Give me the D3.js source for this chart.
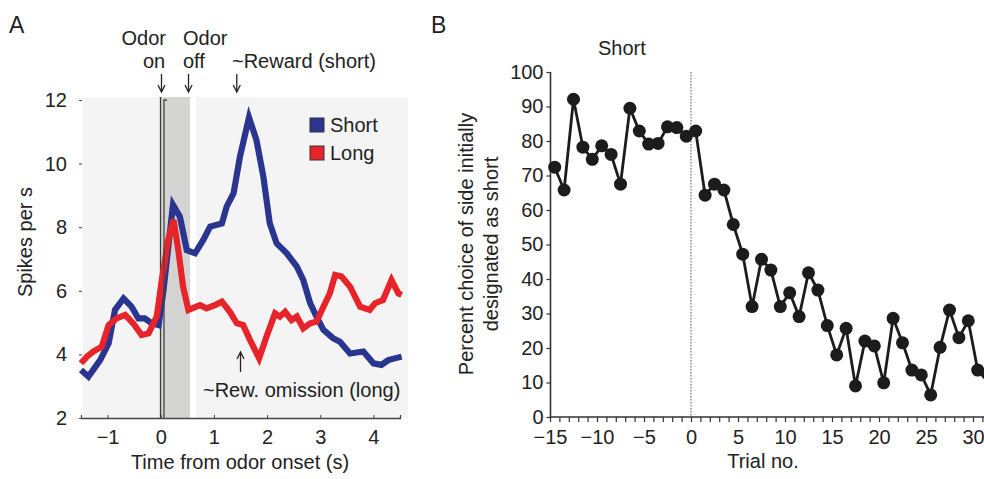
<!DOCTYPE html>
<html><head><meta charset="utf-8">
<script src="https://cdn.jsdelivr.net/npm/d3@7"></script>
<style>body{margin:0;background:#fff}svg{display:block;font-family:"Liberation Sans",Arial,Helvetica,sans-serif;fill:#222}</style>
</head><body><svg id="c" width="984" height="479"></svg>
<script>
// ---- Panel A data ----
const shortTime = [-1.5,-1.36,-1.14,-0.98,-0.86,-0.70,-0.55,-0.42,-0.30,-0.17,-0.04,0.05,0.23,0.36,0.49,0.645,0.80,0.93,1.15,1.24,1.37,1.49,1.66,1.80,1.93,2.05,2.18,2.37,2.56,2.68,2.81,2.93,3.06,3.24,3.37,3.56,3.81,4.0,4.15,4.28,4.53];
const shortRate = [3.51,3.30,3.82,4.35,5.40,5.76,5.50,5.13,5.13,4.98,4.92,6.0,8.70,8.33,7.28,7.18,7.60,8.02,8.12,8.65,9.07,10.22,11.45,10.74,9.59,8.12,7.49,7.18,6.76,6.34,5.61,5.19,4.77,4.51,4.40,4.03,4.09,3.72,3.67,3.82,3.93];
const longTime = [-1.5,-1.39,-1.27,-1.11,-0.98,-0.83,-0.67,-0.52,-0.36,-0.23,-0.075,0.02,0.14,0.24,0.33,0.42,0.52,0.74,0.86,1.02,1.15,1.30,1.43,1.55,1.68,1.85,1.99,2.15,2.24,2.34,2.46,2.56,2.68,2.81,2.93,3.06,3.18,3.28,3.40,3.56,3.75,3.93,4.03,4.18,4.34,4.47,4.53];
const longRate = [3.72,3.93,4.09,4.24,4.92,5.13,5.24,4.98,4.61,4.66,5.19,6.34,7.60,8.23,7.28,6.13,5.40,5.55,5.45,5.55,5.66,5.34,4.98,4.92,4.45,3.88,4.56,5.29,5.19,5.34,5.08,5.19,4.82,4.98,5.03,5.50,5.92,6.50,6.45,6.13,5.50,5.40,5.61,5.71,6.34,5.92,5.87];
const xTicksA = [-1,0,1,2,3,4];
const yTicksA = [2,4,6,8,10,12];
const seriesNames = ["Short","Long"];
const seriesColors = ["#2a3590","#e8242b"];

// ---- Panel B data ----
const trials = [-14.5,-13.5,-12.5,-11.5,-10.5,-9.5,-8.5,-7.5,-6.5,-5.5,-4.5,-3.5,-2.5,-1.5,-0.5,0.5,1.5,2.5,3.5,4.5,5.5,6.5,7.5,8.5,9.5,10.5,11.5,12.5,13.5,14.5,15.5,16.5,17.5,18.5,19.5,20.5,21.5,22.5,23.5,24.5,25.5,26.5,27.5,28.5,29.5,30.5,31.5];
const pctShort = [72.4,65.8,92.1,78.2,74.7,78.6,76.1,67.5,89.5,82.9,79.1,79.3,84.1,83.9,81.4,82.9,64.3,67.5,65.8,55.8,47.2,32.0,45.7,42.6,32.0,36.0,29.1,41.8,36.8,26.5,18.0,25.7,9.0,22.0,20.6,9.9,28.6,21.5,13.6,12.2,6.4,20.2,31.0,23.0,27.9,13.6,12.7];
const xTicksB = [-15,-10,-5,0,5,10,15,20,25,30];
const yTicksB = [0,10,20,30,40,50,60,70,80,90,100];

const svg = d3.select("#c");
const FS = 20;

// ================= Panel A =================
const xA = d3.scaleLinear().domain([-1.5,4.5]).range([81,400]);
const yA = d3.scaleLinear().domain([2,12]).range([418,100]);
const gA = svg.append("g");

gA.append("rect").attr("x",83).attr("y",97).attr("width",408-83).attr("height",418-97).attr("fill","#f4f4f4");
gA.append("rect").attr("x",xA(0.55)).attr("y",97).attr("width",xA(0.66)-xA(0.55)).attr("height",418-97).attr("fill","#ffffff");
gA.append("rect").attr("x",161).attr("y",97).attr("width",xA(0.55)-161).attr("height",418-97).attr("fill","#d4d4d2");
gA.append("line").attr("x1",160.5).attr("x2",160.5).attr("y1",97).attr("y2",418).attr("stroke","#3a3a3a").attr("stroke-width",1.3);

const lineA = d3.line().x(d=>xA(d[0])).y(d=>yA(d[1]));
const longPts = longTime.map((t,i)=>[t,longRate[i]]);
const shortPts = shortTime.map((t,i)=>[t,shortRate[i]]);
gA.append("path").attr("d",lineA(shortPts)).attr("fill","none").attr("stroke",seriesColors[0]).attr("stroke-width",6.2).attr("stroke-linejoin","miter");
gA.append("path").attr("d",lineA(longPts)).attr("fill","none").attr("stroke",seriesColors[1]).attr("stroke-width",6.2).attr("stroke-linejoin","miter");

// axes
const axXA = gA.append("g").attr("transform","translate(0,418)")
  .call(d3.axisBottom(xA).tickValues(xTicksA).tickSize(-3).tickPadding(12).tickFormat(d=>d<0?"\u2212"+Math.abs(d):d));
const axYA = gA.append("g").attr("transform","translate(82,0)")
  .call(d3.axisLeft(yA).tickValues(yTicksA).tickSize(3).tickPadding(12));
[axXA,axYA].forEach(a=>{a.select(".domain").attr("stroke","#444").attr("stroke-width",1.3);
  a.selectAll(".tick line").attr("stroke","#444");
  a.selectAll(".tick text").attr("font-size",FS).attr("fill","#222").style("font-family","inherit");});
axYA.select(".domain").attr("d","M85,100H82V418");

gA.append("text").attr("x",240).attr("y",469).attr("text-anchor","middle").attr("font-size",FS).text("Time from odor onset (s)");
gA.append("text").attr("transform","translate(32,242) rotate(-90)").attr("text-anchor","middle").attr("font-size",FS).text("Spikes per s");

// legend
seriesNames.forEach((n,i)=>{
  gA.append("rect").attr("x",310).attr("y",118+i*28).attr("width",14).attr("height",14).attr("fill",seriesColors[i]).attr("stroke","#333").attr("stroke-width",1);
  gA.append("text").attr("x",330).attr("y",132+i*28).attr("font-size",FS).text(n);
});

// annotations
function arrowDown(x,y1,y2){
  gA.append("line").attr("x1",x).attr("x2",x).attr("y1",y1).attr("y2",y2-1).attr("stroke","#222").attr("stroke-width",1.3);
  gA.append("path").attr("d",`M${x-3.5},${y2-7}L${x},${y2}L${x+3.5},${y2-7}`).attr("fill","none").attr("stroke","#222").attr("stroke-width",1.3);
}
function arrowUp(x,y1,y2){
  gA.append("line").attr("x1",x).attr("x2",x).attr("y1",y1).attr("y2",y2+1).attr("stroke","#222").attr("stroke-width",1.3);
  gA.append("path").attr("d",`M${x-3.5},${y2+7}L${x},${y2}L${x+3.5},${y2+7}`).attr("fill","none").attr("stroke","#222").attr("stroke-width",1.3);
}
gA.append("text").attr("x",121.5).attr("y",45).attr("font-size",FS).text("Odor");
gA.append("text").attr("x",143).attr("y",68).attr("font-size",FS).text("on");
gA.append("text").attr("x",183).attr("y",45).attr("font-size",FS).text("Odor");
gA.append("text").attr("x",183).attr("y",68).attr("font-size",FS).text("off");
gA.append("text").attr("x",232).attr("y",68).attr("font-size",FS).text("~Reward (short)");
arrowDown(161.5,74,92);
arrowDown(188.5,74,92);
arrowDown(xA(1.43),74,92);
arrowUp(xA(1.5),372,352);
gA.append("text").attr("x",203).attr("y",397).attr("font-size",FS).text("~Rew. omission (long)");

svg.append("text").attr("x",9).attr("y",33).attr("font-size",23).text("A");
svg.append("text").attr("x",431).attr("y",33).attr("font-size",23).text("B");

// ================= Panel B =================
const xB = d3.scaleLinear().domain([-15,32]).range([550,550+47*9.4]);
const yB = d3.scaleLinear().domain([0,100]).range([417,72]);
const gB = svg.append("g");

gB.append("line").attr("x1",xB(0)).attr("x2",xB(0)).attr("y1",72).attr("y2",417).attr("stroke","#888").attr("stroke-width",1.5).attr("stroke-dasharray","1.5,1.5");

const minor = d3.range(-15,33,1);
const axXB = gB.append("g").attr("transform","translate(0,417)")
  .call(d3.axisBottom(xB).tickValues(minor).tickSize(5).tickPadding(8).tickFormat(d=>xTicksB.includes(d)?(d<0?"\u2212"+Math.abs(d):d):""));
const axYB = gB.append("g").attr("transform","translate(550.5,0)")
  .call(d3.axisLeft(yB).tickValues(yTicksB).tickSize(4).tickPadding(3));
[axXB,axYB].forEach(a=>{a.select(".domain").attr("stroke","#333").attr("stroke-width",1.6);
  a.selectAll(".tick line").attr("stroke","#333").attr("stroke-width",1.2);
  a.selectAll(".tick text").attr("font-size",FS).attr("fill","#222").style("font-family","inherit");});
axXB.select(".domain").attr("d",`M550,0H990`);
axYB.select(".domain").attr("d","M0,72V417");

const ptsB = trials.map((t,i)=>[t,pctShort[i]]);
gB.append("path").attr("d",d3.line().x(d=>xB(d[0])).y(d=>yB(d[1]))(ptsB)).attr("fill","none").attr("stroke","#1c1c1c").attr("stroke-width",2.8);
gB.selectAll("circle").data(ptsB).join("circle").attr("cx",d=>xB(d[0])).attr("cy",d=>yB(d[1])).attr("r",6.5).attr("fill","#1c1c1c");

gB.append("text").attr("x",598).attr("y",55).attr("font-size",FS).text("Short");
gB.append("text").attr("x",763).attr("y",468).attr("text-anchor","middle").attr("font-size",FS).text("Trial no.");
gB.append("text").attr("transform","translate(473,244) rotate(-90)").attr("text-anchor","middle").attr("font-size",FS).text("Percent choice of side initially");
gB.append("text").attr("transform","translate(498,244) rotate(-90)").attr("text-anchor","middle").attr("font-size",FS).text("designated as short");
</script></body></html>
